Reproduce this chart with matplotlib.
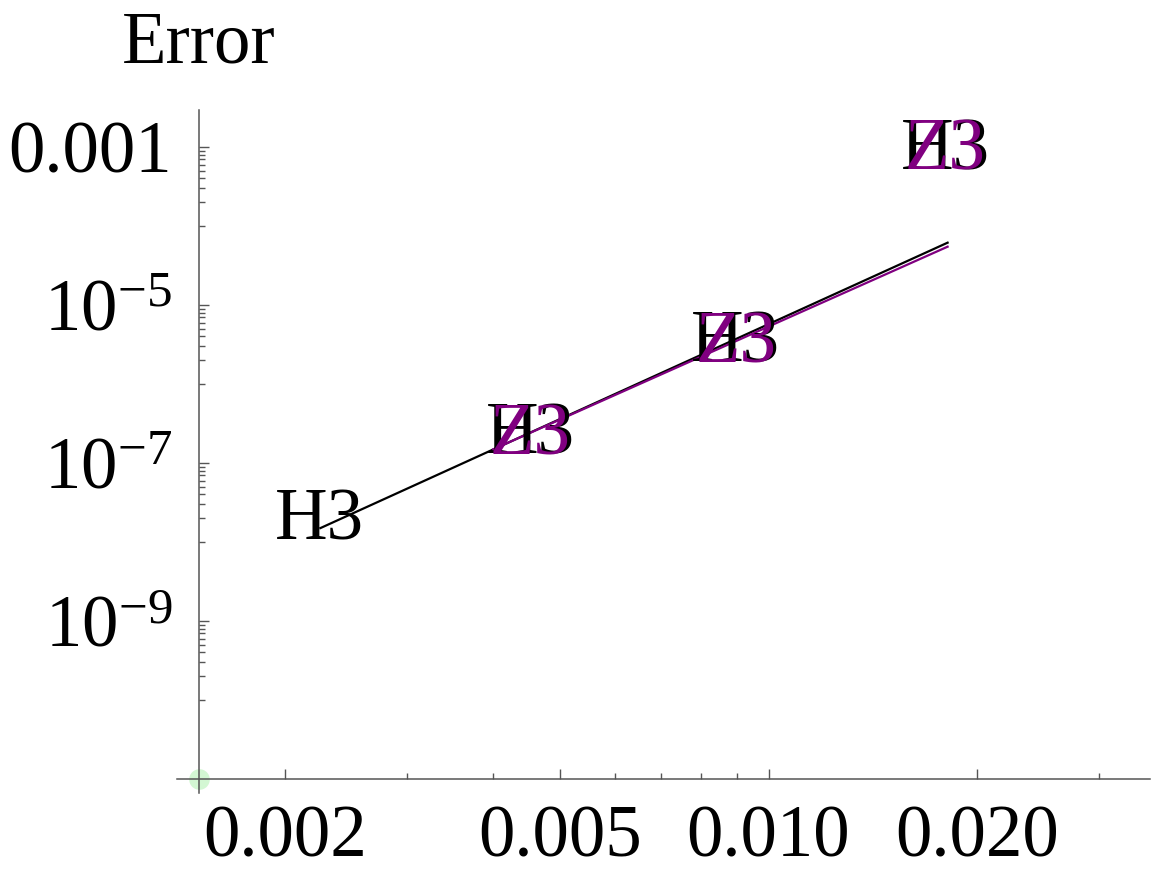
import numpy as np
import matplotlib
matplotlib.use('Agg')
import matplotlib.pyplot as plt

# ---------------------------
# Data
# ---------------------------
h_black   = [0.00224, 0.00452, 0.00897, 0.0180]
err_black = [1.8e-8, 2.2e-7, 3.2e-6, 8.8e-4]

h_purple   = [0.00452, 0.00897, 0.0180]
err_purple = [2.15e-7, 3.1e-6, 8.6e-4]

# fitted lines (end points)
fit_black_h   = [0.00225, 0.01815]
fit_black_err = [1.5e-8, 6.15e-5]
fit_purple_h   = [0.0040, 0.01815]
fit_purple_err = [1.49e-7, 5.47e-5]

x_ticks       = [0.002, 0.005, 0.010, 0.020]
x_tick_labels = ["0.002", "0.005", "0.010", "0.020"]
x_minor       = [0.003, 0.004, 0.006, 0.007, 0.008, 0.009, 0.03]

y_ticks       = [1e-3, 1e-5, 1e-7, 1e-9]
y_tick_labels = ["0.001", r"$10^{-5}$", r"$10^{-7}$", r"$10^{-9}$"]

PURPLE = "#800080"
AXCOL = "#555555"
FS = 52.5

plt.rcParams['font.family'] = ['Liberation Serif', 'DejaVu Serif']
plt.rcParams['mathtext.fontset'] = 'custom'
plt.rcParams['mathtext.rm'] = 'Liberation Serif'
plt.rcParams['mathtext.it'] = 'Liberation Serif:italic'

W, H = 1155, 871
fig = plt.figure(figsize=(W / 100, H / 100), dpi=100)
ax = fig.add_axes([177 / W, (H - 793) / H, (1150 - 177) / W, (793 - 110) / H])
ax.set_xscale('log')
ax.set_yscale('log')

# Mathematica-style axes crossing at the origin point
ax.spines['left'].set_position(('data', 0.0015))
ax.spines['bottom'].set_position(('data', 1e-11))
ax.spines['top'].set_visible(False)
ax.spines['right'].set_visible(False)
for s in ('left', 'bottom'):
    ax.spines[s].set_color(AXCOL)
    ax.spines[s].set_linewidth(1.1)

ax.set_xticks(x_ticks)
ax.set_xticklabels(x_tick_labels)
ax.set_xticks(x_minor, minor=True)
ax.set_xticklabels([], minor=True)

y_minor = [m * k / 10 for m in y_ticks for k in range(1, 10)]
ax.set_yticks(y_ticks)
ax.set_yticklabels(y_tick_labels)
ax.set_yticks(y_minor, minor=True)
ax.set_yticklabels([], minor=True)

ax.tick_params(which='both', direction='in', color=AXCOL, width=1.0, labelsize=FS)
ax.tick_params(which='major', length=7.5)
ax.tick_params(which='minor', length=4)
ax.tick_params(axis='x', which='major', pad=19)
ax.tick_params(axis='y', which='major', pad=19)

# fit lines
ax.plot(fit_black_h, fit_black_err, color='black', lw=1.6, zorder=2)
ax.plot(fit_purple_h, fit_purple_err, color=PURPLE, lw=1.6, zorder=3)

# text markers
for hx, ey in zip(h_black, err_black):
    ax.text(hx, ey, "H3", fontsize=FS, color='black', ha='center', va='center', zorder=4)
for hx, ey in zip(h_purple, err_purple):
    ax.text(hx, ey, "Z3", fontsize=FS, color=PURPLE, ha='center', va='center', zorder=5)

# faint point at the origin
ax.scatter([0.0015], [1e-11], s=220, color='#c8f5c8', alpha=0.8, clip_on=False, zorder=1,
           linewidths=0)

ax.set_xlim(0.001396, 0.0356)
ax.set_ylim(6.65e-12, 2.94e-3)

ax.text(0.0015, 2.94e-3 * 10 ** 0.6, "Error", fontsize=FS, ha='center', va='baseline',
        clip_on=False)

fig.savefig("out.png", dpi=100)
